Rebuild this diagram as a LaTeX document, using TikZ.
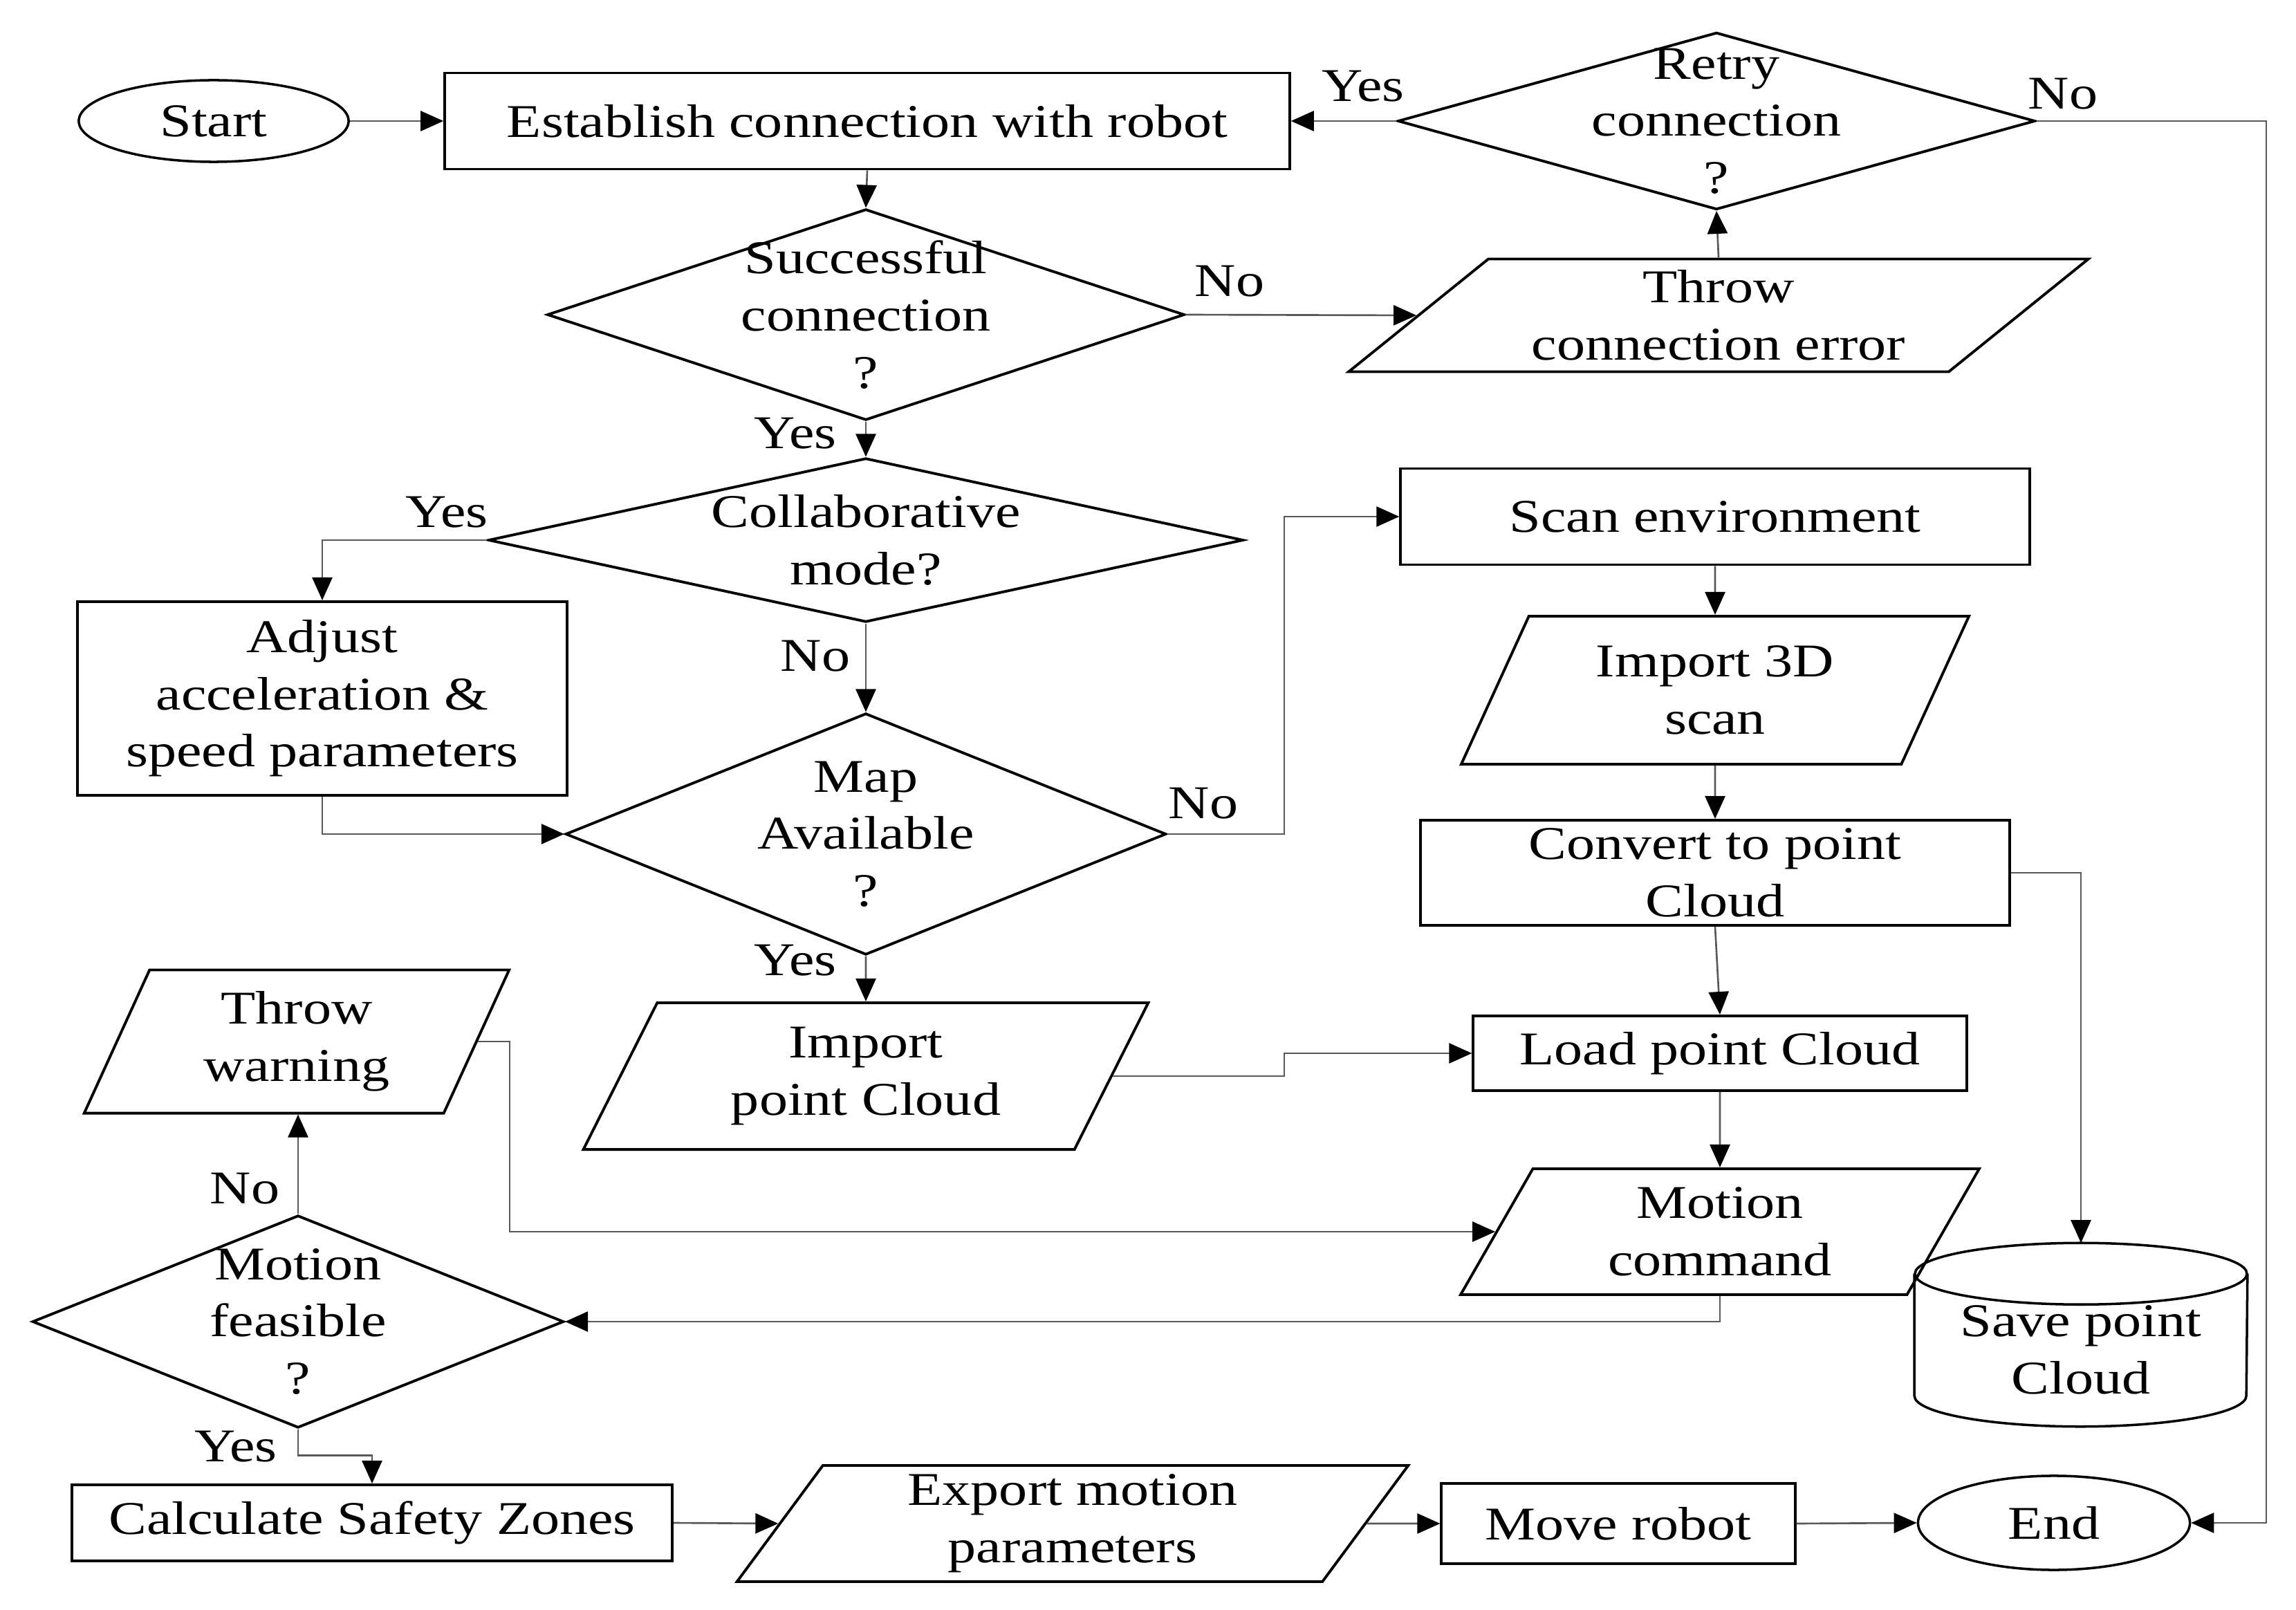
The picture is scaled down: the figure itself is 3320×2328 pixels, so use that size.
\documentclass[tikz,border=0pt]{standalone}
\usepackage{fontspec}
\setmainfont{Liberation Serif}[FakeStretch=1.21]
\usetikzlibrary{shapes.geometric,arrows.meta}
\newcommand{\gapp}{\hspace{0.3em}}
\begin{document}
\begin{tikzpicture}[x=0.01cm,y=-0.01cm,
  every node/.style={font=\fontsize{19.3}{23.5}\selectfont, align=center, inner sep=0pt},
  box/.style={draw, line width=1.1pt, rectangle},
  dia/.style={draw, line width=1.1pt, diamond},
  para/.style={draw, line width=1.1pt, trapezium, trapezium stretches=true},
  term/.style={draw, line width=1.0pt, ellipse},
  outl/.style={line width=1.0pt},
  conn/.style={draw=black!65, line width=0.75pt, -{Triangle[length=0.33cm,width=0.29cm,color=black]}}]
\useasboundingbox[fill=white] (0,0) rectangle (3320,2328);

\node[term, minimum width=3.9cm, minimum height=1.18cm] (start) at (309,175) {Start};
\node[box, minimum width=12.21cm, minimum height=1.39cm] (est) at (1254,175) {Establish connection\gapp with robot};
\node[dia, minimum width=9.21cm, minimum height=2.56cm, label={[name=retryt]center:{Retry\\connection\\?}}] (retry) at (2482,175) {};
\node[dia, minimum width=9.21cm, minimum height=3.05cm, label={[name=succt]center:{Successful\\connection\\?}}] (succ) at (1252,455) {};
\node[para, minimum width=10.71cm, minimum height=1.63cm, trapezium left angle=38.5, trapezium right angle=141.5] (throwc) at (2485,456) {Throw\\connection\gapp error};
\node[dia, minimum width=10.91cm, minimum height=2.37cm, label={[name=collt]center:{Collaborative\\mode?}}] (coll) at (1252,781) {};
\node[box, minimum width=7.07cm, minimum height=2.80cm] (adj) at (466,1010) {Adjust\\acceleration\gapp \&\\speed parameters};
\node[dia, minimum width=8.68cm, minimum height=3.49cm, label={[name=mapt]center:{Map\\Available\\?}}] (map) at (1252,1206) {};
\node[box, minimum width=9.09cm, minimum height=1.39cm] (scan) at (2480,747) {Scan\gapp environment};
\node[para, minimum width=7.35cm, minimum height=2.14cm, trapezium left angle=64, trapezium right angle=116] (imp3d) at (2480,998) {Import 3D\\scan};
\node[box, minimum width=8.51cm, minimum height=1.52cm] (conv) at (2480,1262) {Convert to point\\Cloud};
\node[box, minimum width=7.13cm, minimum height=1.08cm] (load) at (2487,1523) {Load point Cloud};
\node[para, minimum width=8.17cm, minimum height=2.12cm, trapezium left angle=64, trapezium right angle=116] (ipc) at (1252,1556) {Import\\point Cloud};
\node[para, minimum width=6.15cm, minimum height=2.07cm, trapezium left angle=67.5, trapezium right angle=112.5] (warn) at (429,1506) {Throw\\warning};
\node[para, minimum width=7.50cm, minimum height=1.82cm, trapezium left angle=64, trapezium right angle=116] (mc) at (2487,1781) {Motion\\command};
% cylinder (Save point Cloud)
\node[minimum width=4.80cm, minimum height=2.64cm, label={[name=savet, yshift=-0.22cm]center:{Save point\\Cloud}}] (save) at (3009,1930) {};
\draw[outl] ([yshift=-0.445cm]save.north west) -- ([yshift=0.445cm]save.south west)
  arc[start angle=180, end angle=0, x radius=240, y radius=44.5] -- ([yshift=-0.445cm]save.north east);
\draw[outl] ([yshift=-0.445cm]save.north) ellipse [x radius=240, y radius=44.5];
\node[dia, minimum width=7.68cm, minimum height=3.07cm, label={[name=feast]center:{Motion\\feasible\\?}}] (feas) at (431,1911) {};
\node[box, minimum width=8.68cm, minimum height=1.10cm] (calc) at (538,2202) {Calculate\gapp Safety\gapp Zones};
\node[para, minimum width=9.72cm, minimum height=1.68cm, trapezium left angle=60, trapezium right angle=120] (exp) at (1551,2203) {Export motion\\parameters};
\node[box, minimum width=5.11cm, minimum height=1.16cm] (move) at (2340,2203) {Move robot};
\node[term, minimum width=3.93cm, minimum height=1.36cm] (end) at (2970,2202) {End};

% labels
\node (l1) at (1971,125) {Yes};
\node (l2) at (2983,136) {No};
\node (l3) at (1778,407) {No};
\node (l4) at (1150,627) {Yes};
\node (l5) at (646,741) {Yes};
\node (l6) at (1179,949) {No};
\node (l7) at (1740,1162) {No};
\node (l8) at (1150,1389) {Yes};
\node (l9) at (354,1719) {No};
\node (l10) at (341,2092) {Yes};

\coordinate (rc) at (3277,175);
\coordinate (jx) at (1857,0);
\coordinate (wx) at (737,0);

\draw[conn] (start) -- (est);
\draw[conn] (est.south) -- (succ.north);
\draw[conn] (succ.east) -- (throwc.west);
\draw[conn] (throwc.north) -- (retry.south);
\draw[conn] (retry.west) -- (est.east);
\draw[conn] (retry.east) -- (rc) |- (end.east);
\draw[conn] (succ.south) -- (coll.north);
\draw[conn] (coll.west) -| (adj.north);
\draw[conn] (coll.south) -- (map.north);
\draw[conn] (adj.south) |- (map.west);
\draw[conn] (map.east) -- (map.east -| jx) |- (scan.west);
\draw[conn] (map.south) -- (ipc.north);
\draw[conn] (scan.south) -- (imp3d.north);
\draw[conn] (imp3d.south) -- (conv.north);
\draw[conn] (conv.south) -- (load.north);
\draw[conn] (load.south) -- (mc.north);
\draw[conn] (conv.east) -| (save.north);
\draw[conn] (ipc.east) -- (ipc.east -| jx) |- (load.west);
\draw[conn] (warn.east) -- (warn.east -| wx) |- (mc.west);
\draw[conn] (mc.south) |- (feas.east);
\draw[conn] (feas.north) -- (feas.north |- warn.south);
\draw[conn] (feas.south) -- ++(0,38) -| (calc.north);
\draw[conn] (calc.east) -- (exp.west);
\draw[conn] (exp.east) -- (move.west);
\draw[conn] (move.east) -- (end.west);
\end{tikzpicture}
\end{document}
